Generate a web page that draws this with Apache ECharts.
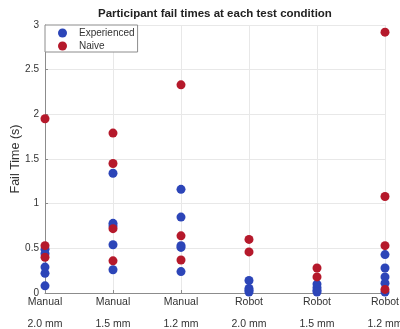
<!DOCTYPE html>
<html>
<head>
<meta charset="utf-8">
<script src="https://cdn.jsdelivr.net/npm/echarts@6/dist/echarts.min.js"></script>
<style>
  html, body { margin: 0; padding: 0; background: #fff; }
  #main { width: 400px; height: 329px; }
</style>
</head>
<body>
<div id="main"></div>
<script>
// test conditions (x positions 0..5)
const conditions = ['Manual\n2.0 mm', 'Manual\n1.5 mm', 'Manual\n1.2 mm', 'Robot\n2.0 mm', 'Robot\n1.5 mm', 'Robot\n1.2 mm']
const yTicks = [0, 0.5, 1, 1.5, 2, 2.5, 3]

// fail times (s), one list per condition
const experienced = [
  [0.49, 0.44, 0.29, 0.22, 0.08],
  [1.34, 0.78, 0.75, 0.54, 0.26],
  [1.16, 0.85, 0.53, 0.51, 0.24],
  [0.14, 0.05, 0.03, 0.01],
  [0.10, 0.06, 0.03, 0.01],
  [0.43, 0.28, 0.18, 0.11, 0.01]
]
const naive = [
  [1.95, 0.53, 0.40],
  [1.79, 1.45, 0.72, 0.36],
  [2.33, 0.64, 0.37],
  [0.60, 0.46],
  [0.28, 0.18],
  [2.92, 1.08, 0.53, 0.04]
]

const toPoints = (groups) => {
  const pts = []
  groups.forEach((vals, i) => vals.forEach(v => pts.push([i, v])))
  return pts
}

const chart = echarts.init(document.getElementById('main'))
const font = 'Liberation Sans, Arial, sans-serif'

const option = {
  animation: false,
  textStyle: { fontFamily: font },
  title: {
    text: 'Participant fail times at each test condition',
    left: 98,
    top: 8,
    padding: 0,
    textStyle: { fontSize: 11.5, fontWeight: 'bold', color: '#222', fontFamily: font }
  },
  legend: {
    orient: 'vertical',
    left: 45,
    top: 25,
    padding: [3, 3, 1, 13],
    itemGap: 3,
    itemWidth: 9,
    itemHeight: 9,
    icon: 'circle',
    borderColor: '#8c8c8c',
    borderWidth: 1,
    backgroundColor: '#fff',
    textStyle: { fontSize: 10, color: '#333', padding: [0, 0, 0, 7] },
    data: ['Experienced', 'Naive']
  },
  grid: { left: 45, right: 15, top: 25, bottom: 36, outerBoundsMode: 'none' },
  xAxis: {
    type: 'value',
    min: 0,
    max: 5,
    interval: 1,
    axisLine: { lineStyle: { color: '#8c8c8c' } },
    axisTick: { inside: true, length: 3, lineStyle: { color: '#8c8c8c' } },
    splitLine: { show: true, lineStyle: { color: '#e8e8e8' } },
    axisLabel: {
      margin: 4,
      color: '#333',
      fontSize: 10.5,
      formatter: (v) => {
        const parts = conditions[v].split('\n')
        return '{a|' + parts[0] + '}\n{b|' + parts[1] + '}'
      },
      rich: {
        a: { lineHeight: 10, fontSize: 10.5, color: '#333' },
        b: { lineHeight: 34, fontSize: 10.5, color: '#333' }
      }
    }
  },
  yAxis: {
    type: 'value',
    min: yTicks[0],
    max: yTicks[yTicks.length - 1],
    interval: 0.5,
    name: 'Fail Time (s)',
    nameLocation: 'middle',
    nameGap: 23,
    nameMoveOverlap: false,
    nameTextStyle: { fontSize: 12.5, color: '#333' },
    axisLine: { show: true, lineStyle: { color: '#8c8c8c' } },
    axisTick: { show: true, inside: true, length: 3, lineStyle: { color: '#8c8c8c' } },
    splitLine: { show: true, lineStyle: { color: '#e8e8e8' } },
    axisLabel: { fontSize: 10, color: '#333', margin: 6 }
  },
  series: [
    {
      name: 'Experienced',
      type: 'scatter',
      symbolSize: 9,
      clip: false,
      itemStyle: { color: '#2c45b8', opacity: 1 },
      data: toPoints(experienced)
    },
    {
      name: 'Naive',
      type: 'scatter',
      symbolSize: 9,
      clip: false,
      itemStyle: { color: '#b5192b', opacity: 1 },
      data: toPoints(naive)
    }
  ]
}
option && chart.setOption(option)
</script>
</body>
</html>
